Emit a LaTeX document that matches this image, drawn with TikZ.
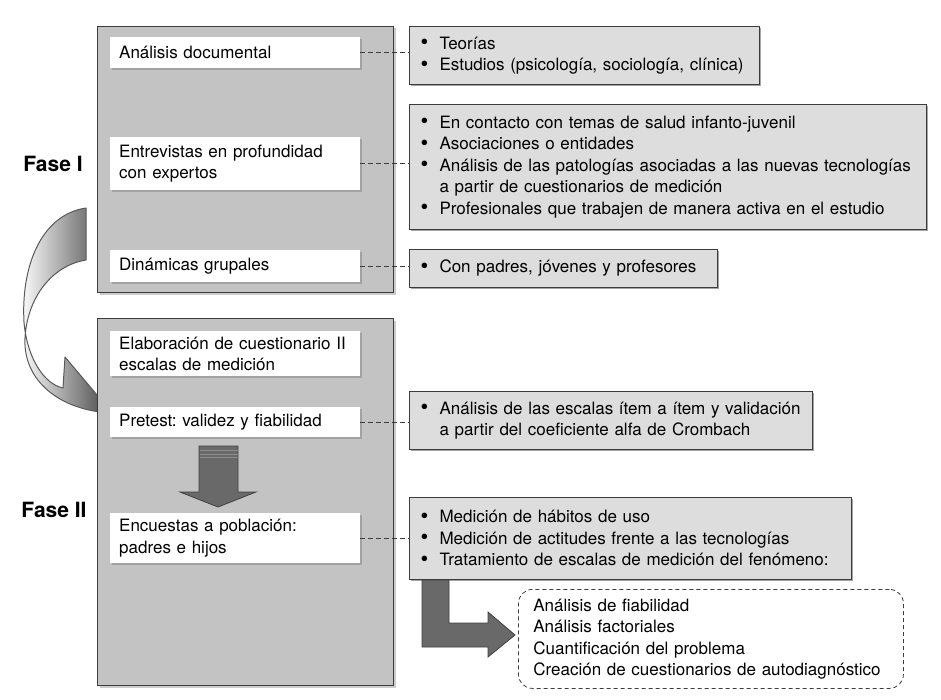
\documentclass[tikz,border=0pt]{standalone}
\usepackage{fontspec}
\setmainfont{TeX Gyre Heros}
\usetikzlibrary{shadows}
\frenchspacing
\definecolor{bigC}{RGB}{195,195,195}
\definecolor{rightC}{RGB}{221,221,221}
\definecolor{frameC}{RGB}{60,60,60}
\definecolor{arrC}{RGB}{105,105,105}
\newcommand{\bul}{\makebox[20pt][l]{\hspace{1pt}\raisebox{-0.5pt}{\scalebox{1.3}{\textbullet}}}}
\newcommand{\cont}{\hspace*{20pt}}
\tikzset{
  txt/.style={font=\fontsize{17}{21.5}\selectfont},
  phase/.style={draw=frameC, line width=1pt, fill=bigC, anchor=north west,
     drop shadow={shadow xshift=2pt, shadow yshift=-2pt, fill=gray!80}},
  wbox/.style={txt, fill=white, anchor=north west, minimum width=250pt, text width=232pt,
     inner xsep=9pt, inner ysep=0pt, align=left,
     drop shadow={shadow xshift=1.5pt, shadow yshift=-1.5pt, fill=gray!90, opacity=0.6}},
  rbox/.style={txt, draw=frameC, line width=1pt, fill=rightC, anchor=north west, inner xsep=10pt,
     inner ysep=0pt, align=left,
     drop shadow={shadow xshift=1.5pt, shadow yshift=-1.5pt, fill=black!70}},
  dbox/.style={txt, draw=frameC, line width=0.8pt, dash pattern=on 4pt off 3pt, rounded corners=14pt,
     fill=white, anchor=north west, inner xsep=15pt, inner ysep=0pt, align=left},
  link/.style={draw=frameC, line width=0.9pt, dash pattern=on 5pt off 3pt},
  bigarrow/.style={fill=arrC, draw=black!75, line width=0.8pt},
  fase/.style={font=\fontsize{21}{25}\selectfont\bfseries}
}
\def\curvedarrow{(86,208) .. controls (40,215) and (21,268) .. (24,322)
  .. controls (27,358) and (44,384) .. (63,388)
  -- (65,357) -- (135,440) -- (100,412)
  .. controls (55,406) and (23,378) .. (25,338)
  .. controls (27,300) and (50,266) .. (86,260) -- cycle}
\begin{document}
\begin{tikzpicture}[x=1pt,y=-1pt]
\useasboundingbox (0,0) rectangle (941,700);

% curved arrow (drawn first, its head partly hidden by the Fase II box)
\begin{scope}
  \clip \curvedarrow;
  \shade[left color=white, right color=black!62] (20,200) rectangle (97,450);
\end{scope}
\draw[black!65, line width=1pt, line join=round] \curvedarrow;

% phase boxes
\node[phase, minimum width=296pt, minimum height=266pt] (F1) at (97,26) {};
\node[phase, minimum width=296pt, minimum height=367pt] (F2) at (97,318) {};

\node[fase] (L1) at (53,164) {Fase I};
\node[fase] (L2) at (54,510) {Fase II};

% left column boxes
\node[wbox, minimum height=31pt] (A) at (110,37) {Análisis documental};
\node[wbox, minimum height=53pt] (E) at (110,137) {Entrevistas en profundidad\\con expertos};
\node[wbox, minimum height=32pt] (D) at (110,250) {Dinámicas grupales};
\node[wbox, minimum height=45pt] (El) at (110,331) {Elaboración de cuestionario II\\escalas de medición};
\node[wbox, minimum height=30pt] (P) at (110,407) {Pretest: validez y fiabilidad};
\node[wbox, minimum height=50pt] (En) at (110,513) {Encuestas a población:\\padres e hijos};

% right column boxes
\node[rbox, minimum width=350pt, text width=330pt, minimum height=58pt] (R1) at (409,26)
  {\bul Teorías\\\bul Estudios (psicología, sociología, clínica)};
\node[rbox, minimum width=517pt, text width=497pt, minimum height=125pt] (R2) at (409,104)
  {\bul En contacto con temas de salud infanto-juvenil\\
   \bul Asociaciones o entidades\\
   \bul Análisis de las patologías asociadas a las nuevas tecnologías\\
   \cont a partir de cuestionarios de medición\\
   \bul Profesionales que trabajen de manera activa en el estudio};
\node[rbox, minimum width=308pt, text width=288pt, minimum height=38pt] (R3) at (409,249)
  {\bul Con padres, jóvenes y profesores};
\node[rbox, minimum width=403pt, text width=383pt, minimum height=58pt] (R4) at (409,391)
  {\bul Análisis de las escalas ítem a ítem y validación\\
   \cont a partir del coeficiente alfa de Crombach};

% bent arrow from R5 to dashed box
\draw[bigarrow] (422,575) -- (449,575) -- (449,623) -- (488,623) -- (488,612) -- (515,635)
  -- (488,657) -- (488,647) -- (422,647) -- cycle;

\node[rbox, minimum width=442pt, text width=422pt, minimum height=82pt] (R5) at (409,497)
  {\bul Medición de hábitos de uso\\
   \bul Medición de actitudes frente a las tecnologías\\
   \bul Tratamiento de escalas de medición del fenómeno:};
\node[dbox, minimum width=385pt, text width=355pt, minimum height=99pt] (R6) at (518,589)
  {Análisis de fiabilidad\\Análisis factoriales\\Cuantificación del problema\\Creación de cuestionarios de autodiagnóstico};

% down arrow inside Fase II
\draw[bigarrow] (199,446) -- (238,446) -- (238,492) -- (256,492) -- (218,507) -- (180,492) -- (199,492) -- cycle;
\foreach \yy in {450.5,454,457.5}
  \draw[black!45, line width=0.8pt] (199.5,\yy) -- (237.5,\yy);

% dashed links
\draw[link] (A.east) -- (A.east -| R1.west);
\draw[link] (E.east) -- (E.east -| R2.west);
\draw[link] (D.east) -- (D.east -| R3.west);
\draw[link] (P.east) -- (P.east -| R4.west);
\draw[link] (En.east) -- (En.east -| R5.west);
\end{tikzpicture}
\end{document}
